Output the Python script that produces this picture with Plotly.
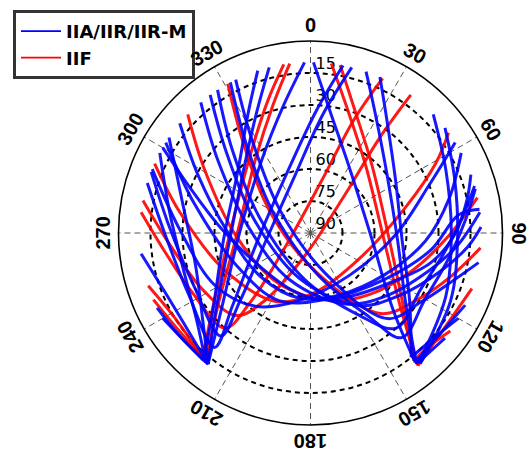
import math
import plotly.graph_objects as go

# ---- data: satellite sky tracks, azimuth (deg, clockwise from north) / elevation (deg) ----
blue_az = [
    [240, 231, 220], [220, 232, 265, 311, 333, 342], [244, 232, 218], [218, 231, 265, 313, 336, 346],
    [263, 244, 218], [218, 231, 272, 326, 348, 358], [141, 128, 115], [1, 9, 32, 96, 133, 141],
    [141, 130, 120], [24, 34, 58, 94, 124, 141], [141, 134, 128], [19, 29, 53, 95, 127, 141],
    [287, 269, 243, 220, 227, 262, 340, 3, 11],
    [291, 272, 245, 221, 226, 261, 345, 6, 14],
    [298, 279, 254, 233, 219], [46, 65, 89, 115, 140],
    [304, 284, 254, 231, 218], [52, 70, 93, 116, 140],
    [292, 271, 241, 217, 189, 137, 91, 68, 58],
    [302, 284, 247, 205, 163, 122, 98, 83, 82],
    [300, 291, 273, 240, 200, 176, 148, 122, 104, 90, 78, 70],
    [310, 297, 271, 228, 189, 155, 119, 94, 76, 62],
    [320, 308, 275, 204, 154, 130, 108, 95, 83],
    [324, 314, 283, 193, 146, 125, 107, 95, 88],
    [327, 317, 287, 187, 150, 138, 117, 97, 82, 74],
    [332, 324, 299, 170, 145, 139, 120, 100, 85, 75],
    [334, 328, 307, 160, 138, 122, 109, 100],
]
blue_el = [
    [10, 12, 12], [12, 32, 49, 45, 26, 10], [10, 12, 12], [12, 33, 52, 47, 28, 10],
    [10, 17, 12], [12, 37, 57, 49, 29, 10], [12, 13, 10], [10, 32, 55, 61, 37, 12],
    [15, 14, 10], [10, 26, 43, 47, 34, 15], [11, 11, 10], [10, 27, 45, 49, 34, 11],
    [10, 22, 26, 20, 40, 65, 59, 32, 10],
    [10, 24, 30, 26, 44, 69, 62, 34, 10],
    [10, 23, 28, 23, 12], [10, 20, 24, 20, 11],
    [10, 28, 34, 25, 12], [10, 18, 21, 17, 10],
    [10, 29, 39, 47, 58, 63, 50, 30, 10],
    [10, 34, 52, 55, 58, 49, 33, 20, 10],
    [10, 29, 48, 61, 62, 59, 55, 46, 32, 22, 15, 10],
    [10, 31, 51, 59, 59, 58, 50, 36, 23, 10],
    [10, 35, 61, 66, 53, 44, 32, 21, 10],
    [10, 35, 63, 68, 49, 39, 27, 16, 10],
    [10, 36, 65, 68, 46, 30, 32, 26, 17, 10],
    [10, 39, 70, 70, 42, 25, 28, 24, 17, 10],
    [10, 38, 72, 70, 36, 29, 20, 10],
]
red_az = [
    [247, 235, 221], [221, 235, 276, 322, 342, 351], [252, 238, 219], [219, 232, 272, 323, 344, 353],
    [141, 124, 109], [7, 17, 39, 92, 129, 141], [141, 133, 125], [10, 20, 42, 88, 126, 141],
    [277, 263, 243, 222, 221, 240, 12, 21, 25],
    [281, 265, 242, 222, 214, 194, 42, 36, 36],
    [294, 279, 247, 207, 176, 117, 75, 61, 54],
    [314, 301, 268, 213, 164, 136, 110, 92, 78],
    [331, 323, 297, 173, 139, 122, 107, 95],
]
red_el = [
    [10, 13, 13], [13, 35, 53, 44, 25, 10], [10, 15, 12], [12, 35, 56, 47, 27, 10],
    [10, 13, 10], [10, 30, 49, 56, 36, 10], [13, 13, 10], [10, 29, 47, 54, 37, 13],
    [10, 21, 28, 30, 47, 76, 65, 33, 10],
    [10, 24, 33, 38, 52, 79, 66, 35, 10],
    [10, 28, 46, 54, 62, 64, 44, 23, 10],
    [10, 32, 55, 62, 57, 50, 39, 26, 10],
    [10, 38, 69, 72, 40, 31, 21, 10],
]
el_ticks = [15, 30, 45, 60, 75, 90]
az_ticks = list(range(0, 360, 30))
series_names = ['IIA/IIR/IIR-M', 'IIF']
BLUE, RED = 'rgb(0,0,255)', 'rgb(255,0,0)'

FONT = 'Liberation Sans, Arial, sans-serif'
LFONT = 'DejaVu Sans, Verdana, sans-serif'
W, H = 529, 453
cx, cy, R = 310.5, 233.0, 192.0   # polar centre / radius in pixels

fig = go.Figure()
# elevation labels along the north spoke (radius = 90 - elevation)
fig.add_trace(go.Scatterpolar(r=[90 - e for e in el_ticks], theta=[0] * len(el_ticks), mode='text',
                              text=['\u00a0' + str(e) for e in el_ticks], textposition='top right',
                              textfont=dict(family=LFONT, size=16, color='black'),
                              showlegend=False, hoverinfo='skip'))
for a, e in zip(red_az, red_el):
    fig.add_trace(go.Scatterpolar(theta=a, r=[90 - v for v in e], mode='lines',
                                  line=dict(color=RED, width=3, shape='spline'),
                                  showlegend=False, opacity=0.9, hoverinfo='skip'))
for a, e in zip(blue_az, blue_el):
    fig.add_trace(go.Scatterpolar(theta=a, r=[90 - v for v in e], mode='lines',
                                  line=dict(color=BLUE, width=3, shape='spline'),
                                  showlegend=False, opacity=0.9, hoverinfo='skip'))
# legend entries (thin sample lines as in the reference)
for name, col, rank in [(series_names[0], BLUE, 1), (series_names[1], RED, 2)]:
    fig.add_trace(go.Scatterpolar(r=[None], theta=[None], mode='lines', name=name,
                                  line=dict(color=col, width=1.8), legendrank=rank))

for a in az_ticks:
    th = math.radians(a)
    fig.add_annotation(x=(cx + 208 * math.sin(th)) / W, y=1 - (cy - 208 * math.cos(th)) / H,
                       xref='paper', yref='paper', text=str(a), showarrow=False,
                       textangle=a if a <= 180 else a - 360, xanchor='center', yanchor='middle',
                       font=dict(family=FONT, size=20, color='black', weight='bold'))

fig.update_layout(
    width=W, height=H, margin=dict(l=0, r=0, t=0, b=0),
    paper_bgcolor='white', plot_bgcolor='white',
    polar=dict(
        domain=dict(x=[(cx - R) / W, (cx + R) / W], y=[(H - cy - R) / H, (H - cy + R) / H]),
        bgcolor='white',
        angularaxis=dict(rotation=90, direction='clockwise', tickvals=az_ticks,
                         showticklabels=False, ticks='', showline=True, linecolor='black', linewidth=1.6,
                         showgrid=True, gridcolor='#555', gridwidth=1, griddash='6px,4px'),
        radialaxis=dict(range=[0, 90], tickvals=[90 - e for e in el_ticks[:-1]], showticklabels=False,
                        ticks='', showline=False, showgrid=True, gridcolor='black', gridwidth=1.6,
                        griddash='5px,4px'),
    ),
    showlegend=True,
    legend=dict(x=13 / W, y=1 - 10 / H, xanchor='left', yanchor='top', bgcolor='white',
                bordercolor='#333', borderwidth=3, tracegroupgap=0, itemwidth=40,
                font=dict(family=LFONT, size=18, color='black', weight='bold')),
)
fig.write_html("out.html", config={'displayModeBar': False},
               post_script="document.body.style.margin='0';document.body.style.overflow='hidden';")
